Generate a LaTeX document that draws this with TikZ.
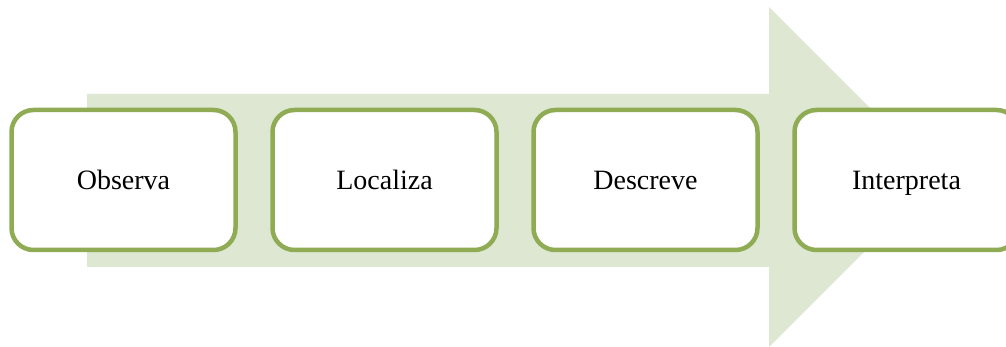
\documentclass[tikz,border=0pt]{standalone}
\usepackage{fontspec}
\setmainfont{Liberation Serif}
\usetikzlibrary{positioning}
\definecolor{stepgreen}{RGB}{143,172,84}
\definecolor{arrowfill}{RGB}{222,231,209}

\begin{document}
\begin{tikzpicture}[
    x=1pt, y=1pt,
    stage/.style={draw=stepgreen, line width=4.5pt, rounded corners=22pt, fill=white, minimum width=224pt, minimum height=140pt, outer sep=0pt, inner sep=0pt, text height=22pt, text depth=3pt, font=\fontsize{28}{32}\selectfont},
    node distance=37pt
]
    \useasboundingbox (0,0) rectangle (1006,347);

    % Big arrow behind the steps
    \fill[arrowfill] (87,80) -- (769,80) -- (769,0) -- (939,170) -- (769,340) -- (769,253) -- (87,253) -- cycle;

    % Steps
    \node[stage] (observa) at (123.5,167) {Observa};
    \node[stage, right=of observa] (localiza) {Localiza};
    \node[stage, right=of localiza] (descreve) {Descreve};
    \node[stage, right=of descreve] (interpreta) {Interpreta};

\end{tikzpicture}
\end{document}
